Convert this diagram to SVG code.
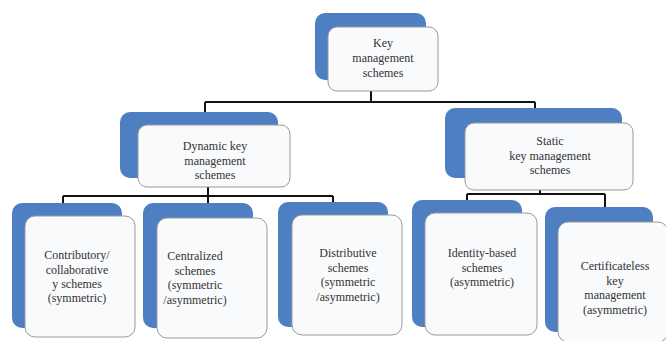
<svg xmlns="http://www.w3.org/2000/svg" width="666" height="341" viewBox="0 0 666 341">
<style>
.back{fill:#4f7fc3;}
.front{fill:#f9fafc;stroke:#9a9a9a;stroke-width:1;}
.t{font-family:"Liberation Serif","DejaVu Serif",serif;font-size:12px;fill:#333;text-anchor:middle;}
.c{fill:none;stroke:#111;stroke-width:2;}
</style>
<rect width="666" height="341" fill="#fff"/>
<g id="connectors">
<path class="c" d="M371 91V102M205 102H535M205 102V113M535 102V110"/>
<path class="c" d="M208 187V196M63 196H333M63 196V204M208 196V204M333 196V203"/>
<path class="c" d="M540 190V194M467 194H605M467 194V201M605 194V208"/>
</g>
<g id="key-management">
<rect class="back" x="315" y="13" width="111" height="67" rx="10"/>
<rect class="front" x="328" y="27" width="110" height="64" rx="9"/>
<text class="t" x="383" y="47">Key</text>
<text class="t" x="383" y="62">management</text>
<text class="t" x="383" y="77">schemes</text>
</g>
<g id="dynamic">
<rect class="back" x="120" y="112" width="158" height="66" rx="10"/>
<rect class="front" x="138" y="125" width="152" height="62" rx="9"/>
<text class="t" x="215" y="150">Dynamic key</text>
<text class="t" x="215" y="164.5">management</text>
<text class="t" x="215" y="179">schemes</text>
</g>
<g id="static">
<rect class="back" x="445" y="108" width="177" height="70" rx="10"/>
<rect class="front" x="465" y="123" width="168" height="67" rx="9"/>
<text class="t" x="550" y="145">Static</text>
<text class="t" x="550" y="160">key management</text>
<text class="t" x="550" y="174">schemes</text>
</g>
<g id="contributory">
<rect class="back" x="12" y="203" width="110" height="125" rx="10"/>
<rect class="front" x="25" y="216" width="110" height="121" rx="10"/>
<text class="t" x="77" y="259">Contributory/</text>
<text class="t" x="77" y="273.5">collaborative</text>
<text class="t" x="77" y="288">y schemes</text>
<text class="t" x="77" y="302">(symmetric)</text>
</g>
<g id="centralized">
<rect class="back" x="143" y="203" width="110" height="125" rx="10"/>
<rect class="front" x="157" y="218" width="110" height="120" rx="10"/>
<text class="t" x="195" y="260">Centralized</text>
<text class="t" x="195" y="274.5">schemes</text>
<text class="t" x="195" y="289">(symmetric</text>
<text class="t" x="195" y="303.5">/asymmetric)</text>
</g>
<g id="distributive">
<rect class="back" x="278" y="202" width="110" height="125" rx="10"/>
<rect class="front" x="292" y="215" width="110" height="120" rx="10"/>
<text class="t" x="348" y="257">Distributive</text>
<text class="t" x="348" y="271.5">schemes</text>
<text class="t" x="348" y="286">(symmetric</text>
<text class="t" x="348" y="300.5">/asymmetric)</text>
</g>
<g id="identity">
<rect class="back" x="412" y="200" width="110" height="127" rx="10"/>
<rect class="front" x="425" y="213" width="112" height="122" rx="10"/>
<text class="t" x="482" y="257">Identity-based</text>
<text class="t" x="482" y="271.5">schemes</text>
<text class="t" x="482" y="286">(asymmetric)</text>
</g>
<g id="certificateless">
<rect class="back" x="545" y="207" width="108" height="125" rx="10"/>
<rect class="front" x="558" y="222" width="110" height="120" rx="10"/>
<text class="t" x="615" y="270">Certificateless</text>
<text class="t" x="615" y="284.5">key</text>
<text class="t" x="615" y="299">management</text>
<text class="t" x="615" y="313.5">(asymmetric)</text>
</g>
</svg>
